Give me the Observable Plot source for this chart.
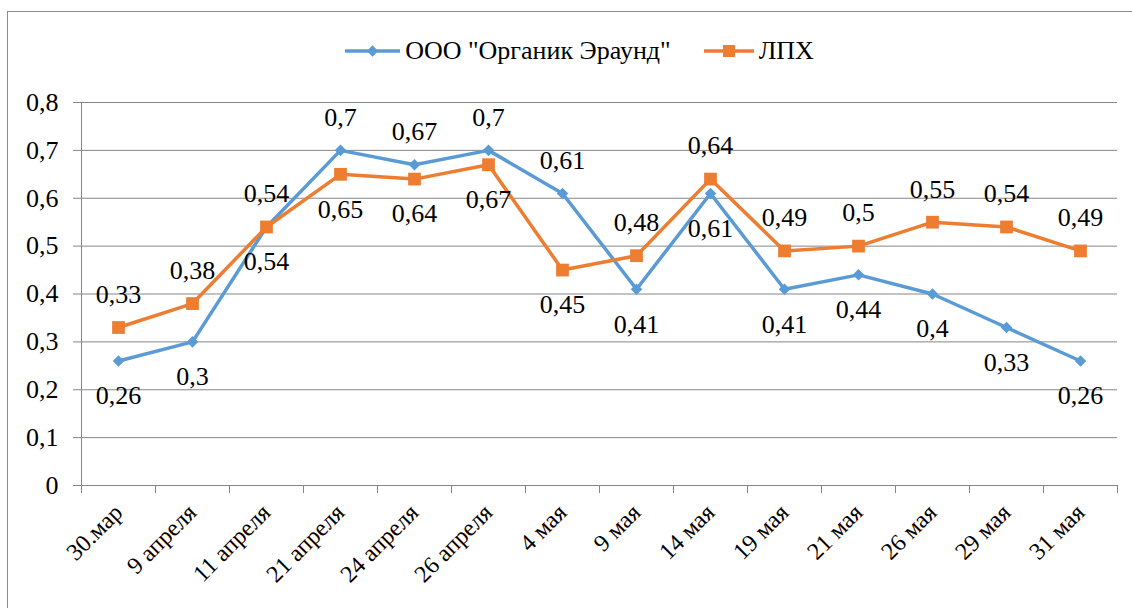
<!DOCTYPE html>
<html><head><meta charset="utf-8">
<script src="https://cdn.jsdelivr.net/npm/d3@7"></script>
<script src="https://cdn.jsdelivr.net/npm/@observablehq/plot@0.6"></script>
<style>
body{margin:0;background:#fff;font-family:'Liberation Serif',serif;}
#wrap{position:relative;width:1132px;height:608px;overflow:hidden;background:#fff}
#frame{position:absolute;left:7px;top:11px;width:1200px;height:700px;border:1px solid #8c8c8c;box-sizing:border-box}
#legend{position:absolute;left:27px;top:36px;width:1105px;display:flex;justify-content:center;gap:33px;font-size:26px;line-height:30px;color:#000;font-family:'Liberation Serif',serif}
#legend .item{display:flex;align-items:center;gap:5px}
#chart{position:absolute;left:0;top:70px}
#chart svg, #chart svg text{font-family:'Liberation Serif',serif !important}
</style></head>
<body>
<div id="wrap"><div id="frame"></div><div id="legend"></div><div id="chart"></div></div>
<script>
const categories = ["30.мар","9 апреля","11 апреля","21 апреля","24 апреля","26 апреля","4 мая","9 мая","14 мая","19 мая","21 мая","26 мая","29 мая","31 мая"];
const seriesNames = ['ООО "Органик Эраунд"', "ЛПХ"];
const organic = [0.26,0.3,0.54,0.7,0.67,0.7,0.61,0.41,0.61,0.41,0.44,0.4,0.33,0.26];
const lph     = [0.33,0.38,0.54,0.65,0.64,0.67,0.45,0.48,0.64,0.49,0.5,0.55,0.54,0.49];
const yTicks = [0,0.1,0.2,0.3,0.4,0.5,0.6,0.7,0.8];
const colors = ["#5B9BD5","#ED7D31"];

const FONT = "'Liberation Serif', serif";
const comma = v => String(v).replace(".", ",");
const n = categories.length;

function rows(values, other, s) {
  return values.map((v, i) => ({x: i + 0.5, value: v, s, above: s === 0 ? v > other[i] : v >= other[i]}));
}
const blue = rows(organic, lph, 0);
const orange = rows(lph, organic, 1);
const all = blue.concat(orange);

const grey = "#868686";
const chart = Plot.plot({
  width: 1132, height: 538,
  marginLeft: 81, marginRight: 15, marginTop: 32, marginBottom: 123,
  style: {fontFamily: FONT, fontSize: "26px", color: "black", background: "transparent"},
  x: {domain: [0, n], label: null},
  y: {domain: [0, 0.8], label: null},
  marks: [
    Plot.gridY(yTicks, {stroke: grey, strokeOpacity: 1}),
    Plot.ruleX([0], {stroke: grey}),
    Plot.ruleY([0], {stroke: grey}),
    Plot.axisY(yTicks, {label: null, tickSize: 8, tickPadding: 15, fontSize: 26, fontFamily: FONT, stroke: grey, fill: "black", tickFormat: comma}),
    Plot.axisX(d3.range(n + 1), {label: null, tickSize: 8, stroke: grey, tickFormat: () => ""}),
    Plot.axisX(categories.map((c, i) => i + 0.5), {label: null, tickSize: 0, tickPadding: 23, tickRotate: -45, fontSize: 24, fontFamily: FONT, fill: "black", tickFormat: v => categories[Math.floor(v)]}),
    Plot.line(blue, {x: "x", y: "value", stroke: colors[0], strokeWidth: 3.5}),
    Plot.dot(blue, {x: "x", y: "value", symbol: "square", rotate: 45, r: 4.6, fill: colors[0], stroke: "none"}),
    Plot.line(orange, {x: "x", y: "value", stroke: colors[1], strokeWidth: 3.5}),
    Plot.dot(orange, {x: "x", y: "value", symbol: "square", r: 7.2, fill: colors[1], stroke: "none"}),
    Plot.text(all.filter(d => d.above), {x: "x", y: "value", text: d => comma(d.value), dy: -33, fontSize: 26, fontFamily: FONT, fill: "black"}),
    Plot.text(all.filter(d => !d.above), {x: "x", y: "value", text: d => comma(d.value), dy: 35, fontSize: 26, fontFamily: FONT, fill: "black"})
  ]
});
document.getElementById("chart").append(chart);

const legend = d3.select("#legend");
seriesNames.forEach((name, s) => {
  const item = legend.append("div").attr("class", "item");
  const w = s === 0 ? 55 : 50;
  const svg = item.append("svg").attr("width", w).attr("height", 20);
  svg.append("line").attr("x1", 0).attr("x2", w).attr("y1", 10).attr("y2", 10).attr("stroke", colors[s]).attr("stroke-width", 3.5);
  if (s === 0) svg.append("rect").attr("x", -4).attr("y", -4).attr("width", 8).attr("height", 8).attr("transform", `translate(${w / 2},10) rotate(45)`).attr("fill", colors[s]);
  else svg.append("rect").attr("x", w / 2 - 6).attr("y", 4).attr("width", 12).attr("height", 12).attr("fill", colors[s]);
  item.append("span").text(name);
});
</script>
</body></html>
